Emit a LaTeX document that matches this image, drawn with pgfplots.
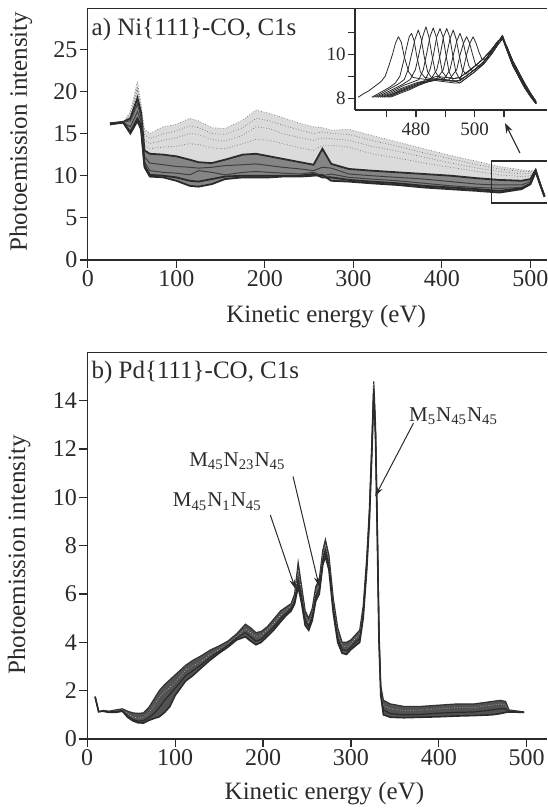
\documentclass[border=0pt]{standalone}
\usepackage{fontspec}
\setmainfont{Liberation Serif}
\usepackage{pgfplots}
\usepackage{pgfplotstable}
\pgfplotsset{compat=1.18}
\usepgfplotslibrary{fillbetween}
\usetikzlibrary{arrows.meta}

\definecolor{Ink}{HTML}{2B2B2B}

% Ni{111}-CO spectra, upper envelope c1 down to lower envelope c9
\pgfplotstableread{
x c1 c2 c3 c4 c5 c6 c7 c8 c9
25 16.0 16.0 16.1 16.1 16.2 16.2 16.1 16.2 16.1
40 16.3 16.3 16.3 16.4 16.4 16.4 16.3 16.3 16.3
48 17.6 17.3 17.0 16.9 16.8 16.5 15.8 15.2 15.0
56 21.2 20.5 20.0 19.6 19.2 18.5 17.6 16.8 16.5
60 18.5 18.3 18.0 17.8 17.5 17.0 16.5 16.0 15.5
64 15.5 14.9 14.2 13.6 13.0 12.2 11.6 11.2 11.0
70 15.0 14.4 13.8 13.2 12.6 11.5 10.6 10.1 9.9
85 15.8 15.0 14.2 13.4 12.5 11.3 10.4 10.0 9.8
100 16.1 15.3 14.5 13.5 12.3 11.1 10.3 9.8 9.4
115 16.8 15.9 15.0 13.8 11.9 11.0 10.1 9.4 8.8
125 16.5 15.7 14.9 13.7 11.6 10.9 10.6 9.3 8.7
140 15.7 15.0 14.3 13.3 11.5 11.0 10.4 9.6 9.0
155 15.6 14.9 14.1 13.2 11.9 11.2 10.1 9.9 9.6
175 16.6 15.7 14.8 13.8 12.5 11.3 10.4 10.0 9.8
190 17.8 16.8 15.8 14.3 12.6 11.4 10.5 10.0 9.8
205 17.4 16.5 15.6 14.2 12.3 11.2 10.4 10.0 9.8
220 16.9 16.0 15.0 13.8 12.0 11.0 10.3 10.0 9.9
240 16.2 15.4 14.5 13.3 11.6 10.8 10.2 10.0 9.9
255 15.8 15.0 14.2 13.0 11.3 10.6 10.4 10.2 10.0
265 15.7 15.2 14.5 13.6 13.2 11.0 10.0 9.8 10.1
275 15.4 15.0 14.4 13.6 11.4 10.9 10.2 9.8 9.4
295 15.5 14.9 14.2 13.4 10.8 10.2 9.8 9.5 9.3
320 14.8 14.2 13.5 12.6 10.6 10.0 9.6 9.3 9.1
350 14.0 13.5 12.9 12.1 10.4 9.8 9.4 9.1 8.9
380 13.2 12.7 12.2 11.5 10.2 9.6 9.1 8.8 8.6
410 12.4 12.0 11.5 11.0 10.0 9.3 8.8 8.6 8.4
440 11.7 11.3 10.9 10.5 9.7 9.0 8.6 8.4 8.2
465 11.1 10.8 10.5 10.1 9.5 8.9 8.5 8.2 8.0
490 10.7 10.5 10.2 9.9 9.4 8.9 8.6 8.5 8.4
500 10.6 10.5 10.3 10.0 9.6 9.3 9.1 9.0 9.0
506 10.6 10.6 10.6 10.6 10.7 10.6 10.6 10.5 10.5
511 9.0 9.0 9.0 9.0 9.0 9.0 9.0 9.0 9.0
516 7.6 7.6 7.6 7.6 7.6 7.6 7.6 7.5 7.5
}\nitab

% Pd{111}-CO spectra, upper u, a, b, lower l
\pgfplotstableread{
x u a b l
9 1.75 1.75 1.75 1.75
13 1.13 1.13 1.13 1.13
18 1.18 1.17 1.16 1.15
25 1.15 1.13 1.12 1.10
32 1.20 1.17 1.13 1.10
40 1.25 1.22 1.18 1.15
46 1.15 1.05 0.95 0.90
52 1.08 0.92 0.80 0.75
58 1.06 0.86 0.74 0.67
64 1.08 0.90 0.76 0.66
70 1.30 1.08 0.88 0.77
76 1.65 1.38 1.05 0.85
82 2.00 1.72 1.30 0.92
88 2.25 1.95 1.60 1.10
94 2.45 2.15 1.85 1.34
100 2.65 2.35 2.10 1.80
106 2.85 2.60 2.35 2.10
112 3.05 2.85 2.62 2.40
120 3.25 3.02 2.82 2.62
130 3.45 3.22 3.08 2.95
140 3.68 3.50 3.38 3.27
150 3.85 3.70 3.62 3.55
160 4.05 3.95 3.88 3.80
170 4.35 4.25 4.18 4.10
180 4.75 4.55 4.40 4.23
186 4.60 4.40 4.22 4.05
192 4.40 4.22 4.05 3.90
198 4.45 4.28 4.12 4.00
205 4.65 4.50 4.38 4.25
212 4.95 4.78 4.62 4.50
220 5.30 5.12 4.98 4.85
226 5.45 5.32 5.20 5.10
232 5.60 5.50 5.40 5.30
236 6.00 5.85 5.70 5.60
240 7.30 7.00 6.60 6.30
244 6.30 6.10 5.85 5.60
248 5.30 5.10 4.90 4.70
252 5.00 4.80 4.65 4.50
256 5.40 5.20 5.05 4.90
260 6.30 6.10 5.90 5.70
264 6.60 6.40 6.20 6.00
268 7.80 7.60 7.40 7.20
271 8.25 8.05 7.80 7.55
275 7.60 7.40 7.20 7.00
280 5.80 5.60 5.40 5.20
285 4.60 4.40 4.20 4.00
290 4.00 3.85 3.70 3.55
295 4.00 3.80 3.65 3.50
300 4.10 3.95 3.80 3.70
305 4.30 4.15 4.00 3.85
310 4.50 4.35 4.15 4.00
314 5.50 5.30 5.15 5.00
318 7.50 7.30 7.15 7.00
321 9.50 9.30 9.15 9.00
324 12.50 12.30 12.10 12.00
326 14.80 14.70 14.50 14.30
328 13.00 12.80 12.60 12.50
330 9.00 8.80 8.60 8.50
332 4.50 4.30 4.10 4.00
334 2.20 2.00 1.90 1.80
337 1.60 1.40 1.20 1.00
345 1.45 1.25 1.05 0.90
360 1.35 1.18 1.00 0.88
380 1.35 1.20 1.02 0.90
400 1.40 1.25 1.07 0.92
420 1.45 1.30 1.10 0.95
440 1.45 1.30 1.12 0.97
460 1.55 1.40 1.20 1.00
470 1.60 1.45 1.25 1.05
476 1.55 1.40 1.25 1.10
480 1.20 1.15 1.13 1.12
497 1.12 1.12 1.11 1.10
}\pdtab

\pgfplotsset{
  spec/.style={
    scale only axis,
    axis x line*=bottom, axis y line*=left,
    axis line style={Ink, line width=0.6pt},
    tick style={Ink, line width=0.6pt},
    tick align=outside,
    major tick length=4pt,
    /pgf/number format/assume math mode=true,
    tick label style={font=\fontsize{12}{14}\selectfont, text=Ink, inner sep=1pt},
    label style={font=\fontsize{12.5}{15}\selectfont, text=Ink},
    clip=false,
  },
  light/.style={black!55, line width=0.35pt, densely dotted},
  dark/.style={Ink, line width=0.9pt},
  mid/.style={black!75, line width=0.5pt},
  ins/.style={Ink, line width=0.4pt, line join=round},
}
\tikzset{
  annot/.style={font=\fontsize{10.5}{12}\selectfont, text=Ink},
  pointer/.style={Ink, line width=0.5pt, -{Stealth[length=5pt, width=3pt]}},
}

\begin{document}
\begin{tikzpicture}

% b) Pd{111}-CO
\begin{axis}[spec,
  at={(0pt,0pt)}, anchor=south west,
  width=229.9pt, height=193.35pt,
  xmin=0, xmax=523.1, ymin=0, ymax=16,
  xtick={0,100,...,500}, ytick={0,2,...,14},
  xlabel={Kinetic energy (eV)},
  ylabel={Photoemission intensity},
  xlabel style={at={(axis description cs:0.516,-0.142)}, anchor=center},
  ylabel style={at={(axis description cs:-0.148,0.476)}, anchor=center},
]
  \draw[Ink, line width=0.6pt] (rel axis cs:0,1) -- (rel axis cs:1,1);
  \addplot[name path=pu, draw=none] table[x=x, y=u] {\pdtab};
  \addplot[name path=pl, draw=none] table[x=x, y=l] {\pdtab};
  \addplot[black!68] fill between[of=pu and pl];
  \addplot[black!80, line width=0.6pt] table[x=x, y=u] {\pdtab};
  \addplot[white!80!black, line width=0.3pt, densely dotted] table[x=x, y=a] {\pdtab};
  \addplot[Ink, line width=0.6pt] table[x=x, y=b] {\pdtab};
  \addplot[Ink, line width=0.8pt] table[x=x, y=l] {\pdtab};

  \node[anchor=north west, inner sep=0pt, font=\fontsize{12.5}{15}\selectfont, text=Ink]
    at ([xshift=2pt, yshift=-4.3pt]rel axis cs:0,1) {b) Pd\{111\}-CO, C1s};

  \node[annot] at (axis cs:416.8,13.37)
    {M\textsubscript{5}N\textsubscript{45}N\textsubscript{45}};
  \draw[pointer] (axis cs:371.2,13.07) -- (axis cs:327.5,10.03);
  \node[annot] at (axis cs:170.8,11.5)
    {M\textsubscript{45}N\textsubscript{23}N\textsubscript{45}};
  \draw[pointer] (axis cs:234.2,10.86) -- (axis cs:264,6.3);
  \node[annot] at (axis cs:148,9.82)
    {M\textsubscript{45}N\textsubscript{1}N\textsubscript{45}};
  \draw[pointer] (axis cs:208.3,9.27) -- (axis cs:237,6.2);
\end{axis}

% a) Ni{111}-CO
\begin{axis}[spec,
  at={(0.35pt,239.5pt)}, anchor=south west,
  width=229.55pt, height=125.85pt,
  xmin=0, xmax=518.8, ymin=0, ymax=29.86,
  xtick={0,100,...,500}, ytick={0,5,...,25},
  xlabel={Kinetic energy (eV)},
  ylabel={Photoemission intensity},
  xlabel style={at={(axis description cs:0.519,-0.225)}, anchor=center},
  ylabel style={at={(axis description cs:-0.146,0.51)}, anchor=center},
]
  \draw[Ink, line width=0.6pt] (rel axis cs:0,1) -- (rel axis cs:1,1);
  \addplot[name path=n1, draw=none] table[x=x, y=c1] {\nitab};
  \addplot[name path=n5, draw=none] table[x=x, y=c5] {\nitab};
  \addplot[name path=n9, draw=none] table[x=x, y=c9] {\nitab};
  \addplot[black!14] fill between[of=n1 and n5];
  \addplot[black!48] fill between[of=n5 and n9];
  \addplot[light] table[x=x, y=c1] {\nitab};
  \addplot[light] table[x=x, y=c2] {\nitab};
  \addplot[light] table[x=x, y=c3] {\nitab};
  \addplot[light] table[x=x, y=c4] {\nitab};
  \addplot[dark] table[x=x, y=c5] {\nitab};
  \addplot[mid] table[x=x, y=c6] {\nitab};
  \addplot[mid] table[x=x, y=c7] {\nitab};
  \addplot[dark] table[x=x, y=c8] {\nitab};
  \addplot[dark] table[x=x, y=c9] {\nitab};

  \node[anchor=north west, inner sep=0pt, font=\fontsize{12.5}{15}\selectfont, text=Ink]
    at ([xshift=1.7pt, yshift=-4.5pt]rel axis cs:0,1) {a) Ni\{111\}-CO, C1s};

  \draw[Ink, line width=0.6pt] (axis cs:518.8,11.74) -- (axis cs:456.5,11.74)
    -- (axis cs:456.5,6.75) -- (axis cs:518.8,6.75);
  \draw[Ink, line width=0.6pt, -{Stealth[length=5pt, width=3.5pt]}]
    (axis cs:488.2,12.7) -- (axis cs:471.3,16.25);
\end{axis}

% inset, zoom on the Ni spectra between 460 and 520 eV
\begin{axis}[spec,
  at={(133.9pt,314.5pt)}, anchor=south west,
  width=96pt, height=50.85pt,
  xmin=459.2, xmax=524.7, ymin=7.47, ymax=12.09,
  major tick length=3.5pt,
  xtick={470,480,490,500,510}, xticklabels={,480,,500,},
  ytick={8,9,10,11}, yticklabels={8,,10,},
  tick label style={font=\fontsize{9.5}{11}\selectfont},
  xticklabel style={yshift=-1.5pt},
]
  \addplot[ins] coordinates {(460.3,8.05)(462,8.2)(464,8.35)(466,8.55)(468,8.75)(469.5,9.0)(470.8,9.5)(472,10.0)(473,10.5)(474,10.8)(475,10.55)(476,9.9)(477.5,9.2)(479,8.95)(481,8.9)(484,8.85)
    (487,8.9)(490,8.85)(493,8.78)(495,8.8)(497,9.0)(500,9.3)(503,9.65)(506,10.15)(508,10.55)(509.5,10.85)(511,10.3)(513,9.6)(515,9.1)(517,8.6)(519,8.15)(521,7.8)};
  \addplot[ins] coordinates {(464.9,8.05)(467,8.2)(469,8.35)(471,8.5)(473,8.7)(474.5,9.0)(475.8,9.7)(476.8,10.3)(477.7,10.8)(478.5,10.95)(479.4,10.6)(480.3,9.9)(481.5,9.2)(483,8.95)(485,8.9)
    (487,9.0)(490,8.95)(493,8.9)(495,8.95)(497,9.15)(500,9.45)(503,9.8)(506,10.25)(508,10.6)(509.5,10.75)(511,10.2)(513,9.5)(515,9.0)(517,8.5)(519,8.1)(521,7.75)};
  \addplot[ins] coordinates {(465.5,8.05)(468,8.2)(470,8.35)(472,8.5)(474,8.65)(476,8.85)(477.3,9.3)(478.5,10.0)(479.7,10.7)(480.8,11.1)(481.8,10.7)(482.8,9.9)(484,9.2)(485.5,8.9)(487,8.8)
    (490,8.75)(493,8.7)(495,8.7)(497,8.9)(500,9.2)(503,9.55)(506,10.05)(508,10.45)(509.5,10.7)(511,10.35)(513,9.7)(515,9.2)(517,8.7)(519,8.25)(521,7.85)};
  \addplot[ins] coordinates {(466.3,8.05)(469,8.2)(472,8.4)(475,8.6)(478,8.85)(479.8,9.3)(481,10.0)(482.3,10.8)(483.4,11.25)(484.4,10.8)(485.4,10.0)(486.6,9.2)(488,8.95)
    (490,8.85)(493,8.78)(495,8.8)(497,9.0)(500,9.3)(503,9.65)(506,10.15)(508,10.55)(509.5,10.85)(511,10.3)(513,9.6)(515,9.1)(517,8.6)(519,8.15)(521,7.8)};
  \addplot[ins] coordinates {(467,8.05)(470,8.2)(473,8.4)(476,8.6)(479,8.75)(481,8.85)(482.5,9.3)(483.6,10.0)(484.8,10.8)(485.9,11.2)(486.9,10.8)(487.9,10.0)(489,9.2)(490.5,8.95)
    (493,8.9)(495,8.95)(497,9.15)(500,9.45)(503,9.8)(506,10.25)(508,10.6)(509.5,10.75)(511,10.2)(513,9.5)(515,9.0)(517,8.5)(519,8.1)(521,7.75)};
  \addplot[ins] coordinates {(467.8,8.05)(471,8.2)(474,8.4)(477,8.55)(480,8.7)(483,8.8)(484.8,9.3)(486,10.0)(487.1,10.8)(488.2,11.17)(489.2,10.8)(490.2,10.0)(491.3,9.2)(492.8,8.8)
    (495,8.7)(497,8.9)(500,9.2)(503,9.55)(506,10.05)(508,10.45)(509.5,10.7)(511,10.35)(513,9.7)(515,9.2)(517,8.7)(519,8.25)(521,7.85)};
  \addplot[ins] coordinates {(468.5,8.05)(472,8.2)(475,8.4)(478,8.55)(481,8.7)(485,8.85)(487.1,9.3)(488.3,10.0)(489.4,10.8)(490.5,11.17)(491.5,10.8)(492.5,10.0)(493.6,9.2)(495,8.85)
    (497,9.0)(500,9.3)(503,9.65)(506,10.15)(508,10.55)(509.5,10.85)(511,10.3)(513,9.6)(515,9.1)(517,8.6)(519,8.15)(521,7.8)};
  \addplot[ins] coordinates {(469.2,8.05)(472,8.2)(475,8.35)(478,8.5)(481,8.65)(484,8.8)(487,8.85)(489.3,9.3)(490.5,10.0)(491.6,10.7)(492.7,11.1)(493.7,10.7)(494.7,10.0)(495.8,9.3)(497,9.1)
    (500,9.45)(503,9.8)(506,10.25)(508,10.6)(509.5,10.75)(511,10.2)(513,9.5)(515,9.0)(517,8.5)(519,8.1)(521,7.75)};
  \addplot[ins] coordinates {(470,8.05)(473,8.2)(476,8.4)(479,8.55)(482,8.7)(486,8.85)(489.5,8.85)(491.6,9.3)(492.8,10.0)(493.9,10.6)(495,10.95)(496,10.6)(497,10.0)(498.1,9.45)(499.2,9.25)
    (503,9.55)(506,10.05)(508,10.45)(509.5,10.7)(511,10.35)(513,9.7)(515,9.2)(517,8.7)(519,8.25)(521,7.85)};
  \addplot[ins] coordinates {(470.6,8.05)(474,8.25)(477,8.4)(480,8.55)(483,8.7)(487,8.85)(491,8.8)(493.9,9.3)(495.1,10.0)(496.2,10.5)(497.3,10.8)(498.3,10.5)(499.3,10.0)(500.4,9.5)(501.5,9.45)
    (503,9.65)(506,10.15)(508,10.55)(509.5,10.85)(511,10.3)(513,9.6)(515,9.1)(517,8.6)(519,8.15)(521,7.8)};
  \addplot[ins] coordinates {(471.3,8.05)(475,8.25)(478,8.4)(481,8.6)(484,8.75)(488,8.85)(492,8.78)(495,8.8)(496.1,9.3)(497.3,10.0)(498.4,10.5)(499.5,10.8)(500.5,10.5)(501.5,10.1)(502.6,9.75)(504,9.8)
    (506,10.25)(508,10.6)(509.5,10.75)(511,10.2)(513,9.5)(515,9.0)(517,8.5)(519,8.1)(521,7.75)};
\end{axis}

\pgfresetboundingbox
\useasboundingbox (-43.6pt,-35pt) rectangle (229.9pt,369.5pt);
\end{tikzpicture}
\end{document}
